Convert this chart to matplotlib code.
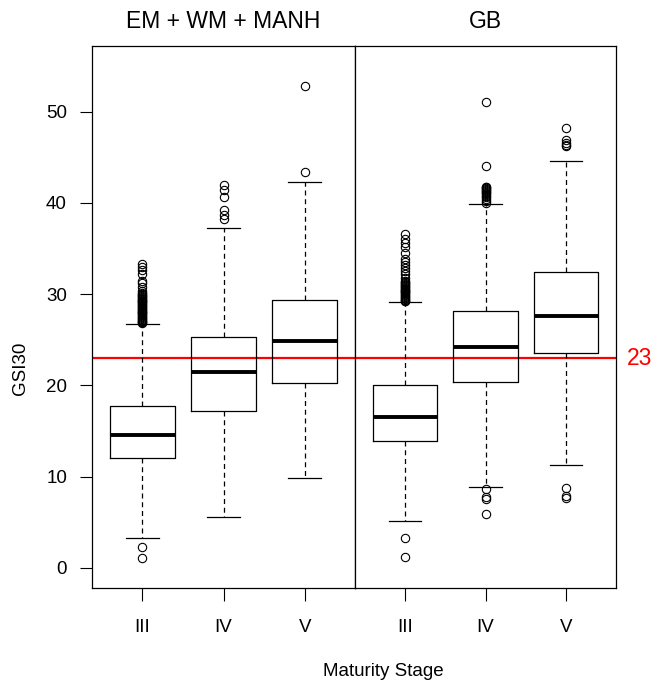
import matplotlib
matplotlib.use('Agg')
import matplotlib.pyplot as plt
import matplotlib.transforms as mtransforms

plt.rcParams['font.family'] = ['Liberation Sans', 'DejaVu Sans']

# maturity stages and regions
stages = ['III', 'IV', 'V']
regions = ['EM + WM + MANH', 'GB']
threshold = 23

# box summary values, per region (III, IV, V)
whislo = {'EM + WM + MANH': [3.3, 5.6, 9.9], 'GB': [5.1, 8.9, 11.3]}
q1 = {'EM + WM + MANH': [12.0, 17.2, 20.3], 'GB': [13.9, 20.4, 23.6]}
med = {'EM + WM + MANH': [14.6, 21.5, 24.9], 'GB': [16.5, 24.2, 27.6]}
q3 = {'EM + WM + MANH': [17.8, 25.3, 29.4], 'GB': [20.0, 28.2, 32.4]}
whishi = {'EM + WM + MANH': [26.7, 37.3, 42.3], 'GB': [29.1, 39.9, 44.6]}

# outliers (the dense runs just above the whiskers overlap into a solid bar)
fliers = {
    'EM + WM + MANH': [
        [33.3, 33.0, 32.6, 32.2, 31.5, 31.2, 30.8, 30.4, 30.1, 30.0, 29.9,
         29.8, 29.7, 29.6, 29.5, 29.4, 29.3, 29.2, 29.1, 29.0, 28.9, 28.8,
         28.7, 28.6, 28.5, 28.4, 28.3, 28.2, 28.1, 28.0, 27.9, 27.8, 27.7,
         27.6, 27.5, 27.4, 27.3, 27.2, 27.1, 27.0, 26.9, 26.8, 2.3, 1.1],
        [42.0, 41.4, 40.6, 39.2, 38.7, 38.2],
        [52.8, 43.4],
    ],
    'GB': [
        [36.6, 36.0, 35.6, 35.2, 34.5, 33.9, 33.5, 33.2, 32.9, 32.5, 32.2,
         31.8, 31.5, 31.3, 31.2, 31.1, 31.0, 30.9, 30.8, 30.7, 30.6, 30.5,
         30.4, 30.3, 30.2, 30.1, 30.0, 29.9, 29.8, 29.7, 29.6, 29.5, 29.4,
         29.3, 29.2, 3.3, 1.2],
        [51.1, 44.0, 41.8, 41.7, 41.6, 41.5, 41.4, 41.3, 41.2, 41.1, 41.0,
         40.8, 40.6, 40.4, 40.2, 40.0, 8.6, 7.8, 7.5, 5.9],
        [48.2, 46.9, 46.6, 46.4, 46.2, 8.8, 7.9, 7.7],
    ],
}

W, H = 655, 684
fig = plt.figure(figsize=(W / 100, H / 100), dpi=100)
ax1 = fig.add_axes([92 / W, (H - 588) / H, 263 / W, 542 / H])
ax2 = fig.add_axes([355 / W, (H - 588) / H, 261 / W, 542 / H])

for ax, reg in zip([ax1, ax2], regions):
    stats = []
    for i, st in enumerate(stages):
        stats.append(dict(whislo=whislo[reg][i], q1=q1[reg][i], med=med[reg][i],
                          q3=q3[reg][i], whishi=whishi[reg][i],
                          fliers=fliers[reg][i], label=st))
    ax.bxp(stats, widths=0.8, capwidths=0.4, showfliers=True,
           boxprops=dict(color='black', linewidth=0.9),
           medianprops=dict(color='black', linewidth=2.8, solid_capstyle='butt'),
           whiskerprops=dict(color='black', linewidth=0.9, linestyle=(0, (4, 3))),
           capprops=dict(color='black', linewidth=0.9),
           flierprops=dict(marker='o', markerfacecolor='none', markeredgecolor='black',
                           markersize=6, markeredgewidth=0.8))
    ax.axhline(threshold, color='#ff0000', linewidth=1.6, zorder=0)
    ax.set_xlim(0.38, 3.62)
    ax.set_ylim(-2.2, 57.2)
    ax.set_title(reg, fontsize=16.5, pad=13)
    ax.tick_params(axis='x', length=9, width=0.8, pad=13, labelsize=13.5)
    for s in ax.spines.values():
        s.set_linewidth(0.9)

ax1.set_yticks([0, 10, 20, 30, 40, 50])
ax1.tick_params(axis='y', length=9, width=0.8, pad=9, labelsize=13.5)
ax2.set_yticks([])

trans = mtransforms.blended_transform_factory(ax2.transAxes, ax2.transData)
ax2.text(1.042, threshold, str(threshold), color='#ff0000', fontsize=16.5,
         ha='left', va='center', transform=trans)

fig.text(383 / W, 1 - 672 / H, 'Maturity Stage', fontsize=13.5, ha='center', va='center')
fig.text(20 / W, 1 - 368 / H, 'GSI30', fontsize=13.5, ha='center', va='center', rotation=90)

fig.savefig('out.png', dpi=100)
